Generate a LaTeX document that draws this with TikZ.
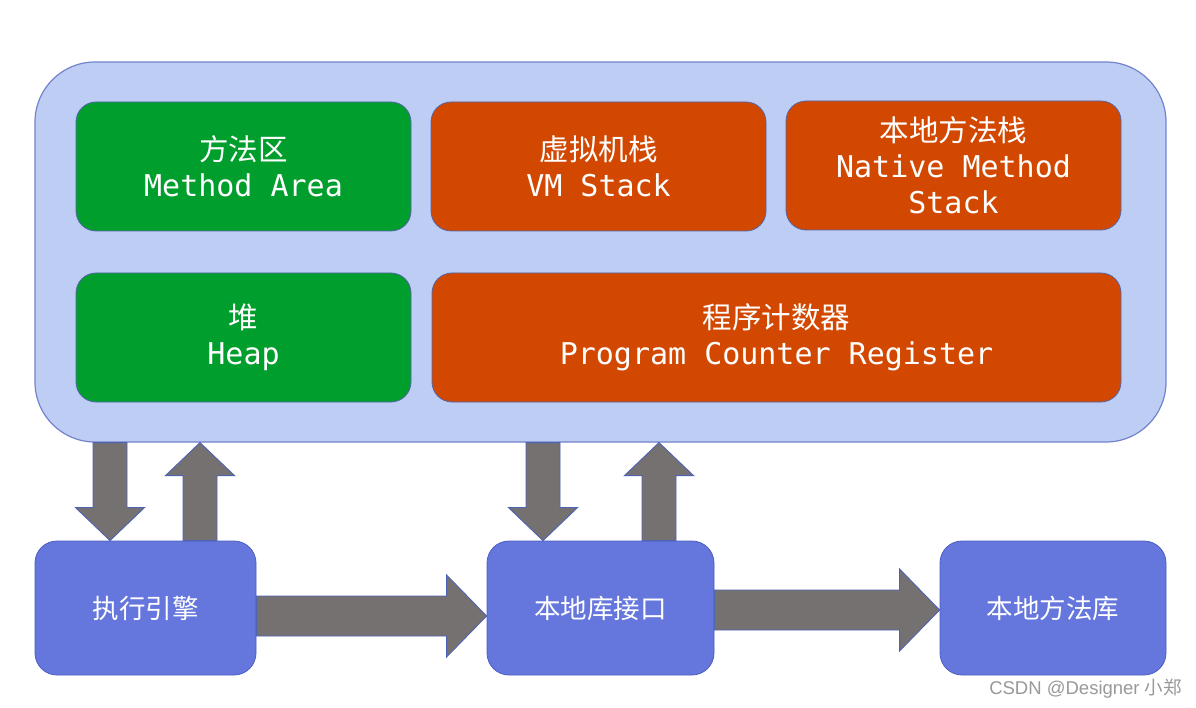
\documentclass[tikz,border=0pt]{standalone}
\usepackage{fontspec}
\setmainfont{Liberation Sans}
\newfontfamily\cjk{Noto Sans CJK SC}
\newfontfamily\mono{DejaVu Sans Mono}
\usetikzlibrary{calc}
\definecolor{outerfill}{HTML}{BDCDF4}
\definecolor{outerdraw}{HTML}{7384CC}
\definecolor{areagreen}{HTML}{009E2D}
\definecolor{areaorange}{HTML}{D24800}
\definecolor{innerdraw}{HTML}{5566AA}
\definecolor{bluebox}{HTML}{6576DC}
\definecolor{blueedge}{HTML}{4D5FC0}
\definecolor{arrgray}{HTML}{767171}
\definecolor{arredge}{HTML}{4F63B5}
\definecolor{wmgray}{HTML}{999999}
\tikzset{
  outerbox/.style={draw=outerdraw, fill=outerfill, line width=1.2pt, rounded corners=60pt, minimum width=1131pt, minimum height=380pt, inner sep=0pt},
  areabox/.style={draw=innerdraw, line width=0.8pt, rounded corners=20pt, minimum height=129pt, inner sep=0pt, text=white, align=center, font=\fontsize{30}{36}\selectfont},
  greenbox/.style={areabox, fill=areagreen},
  orangebox/.style={areabox, fill=areaorange},
  bottombox/.style={draw=blueedge, fill=bluebox, line width=0.8pt, rounded corners=22pt, minimum height=134pt, inner sep=0pt, text=white, font=\cjk\fontsize{26.5}{30}\selectfont},
  blockarr/.style={fill=arrgray, draw=arredge, line width=0.9pt, line join=miter},
  watermark/.style={text=wmgray, font=\fontsize{18.5}{22}\selectfont, inner sep=0pt}
}
\newcommand\cj[1]{{\cjk\fontsize{29.5}{36}\selectfont #1}}
\newcommand\mo[1]{{\mono #1}}
% down arrow: x centre (px), from node (south), to node (north)
\newcommand\downarr[3]{%
  \draw[blockarr] let \p1=(#2.south), \p2=(#3.north) in
   (#1pt-17pt,\y1) -- (#1pt+17pt,\y1) -- (#1pt+17pt,\y2+33pt) -- (#1pt+34.5pt,\y2+33pt)
   -- (#1pt,\y2) -- (#1pt-34.5pt,\y2+33pt) -- (#1pt-17pt,\y2+33pt) -- cycle;}
% up arrow: x centre (px), from node (north), to node (south)
\newcommand\uparr[3]{%
  \draw[blockarr] let \p1=(#2.north), \p2=(#3.south) in
   (#1pt-17pt,\y1) -- (#1pt+17pt,\y1) -- (#1pt+17pt,\y2-33pt) -- (#1pt+34.5pt,\y2-33pt)
   -- (#1pt,\y2) -- (#1pt-34.5pt,\y2-33pt) -- (#1pt-17pt,\y2-33pt) -- cycle;}
% right arrow: y centre (px), from node (east), to node (west)
\newcommand\rightarr[3]{%
  \draw[blockarr] let \p1=(#2.east), \p2=(#3.west) in
   (\x1,-#1pt+20pt) -- (\x2-40pt,-#1pt+20pt) -- (\x2-40pt,-#1pt+41pt) -- (\x2,-#1pt)
   -- (\x2-40pt,-#1pt-41pt) -- (\x2-40pt,-#1pt-20pt) -- (\x1,-#1pt-20pt) -- cycle;}
\begin{document}
\begin{tikzpicture}[x=1pt,y=-1pt]
\useasboundingbox[fill=white] (0,0) rectangle (1196,708);

\node[outerbox] (jvm) at (600.5,252) {};

\node[greenbox, minimum width=335pt] (ma) at (243.5,166.5) {\cj{方法区}\\\mo{Method Area}};
\node[orangebox, minimum width=335pt] (vm) at (598.5,166.5) {\cj{虚拟机栈}\\\mo{VM Stack}};
\node[orangebox, minimum width=335pt] (ns) at (953.5,165.5) {\cj{本地方法栈}\\\mo{Native Method}\\\mo{Stack}};
\node[greenbox, minimum width=335pt] (heap) at (243.5,337.5) {\cj{堆}\\\mo{Heap}};
\node[orangebox, minimum width=689pt] (pc) at (776.5,337.5) {\cj{程序计数器}\\\mo{Program Counter Register}};

\node[bottombox, minimum width=221pt] (exec) at (145.5,608) {执行引擎};
\node[bottombox, minimum width=227pt] (nli) at (600.5,608) {本地库接口};
\node[bottombox, minimum width=226pt] (nml) at (1053,608) {本地方法库};

\downarr{110}{jvm}{exec}
\uparr{200}{exec}{jvm}
\downarr{543}{jvm}{nli}
\uparr{659}{nli}{jvm}
\rightarr{616}{exec}{nli}
\rightarr{610}{nli}{nml}

\node[watermark, anchor=east] (wm) at (1182,689) {CSDN @Designer {\cjk 小郑}};
\end{tikzpicture}
\end{document}
